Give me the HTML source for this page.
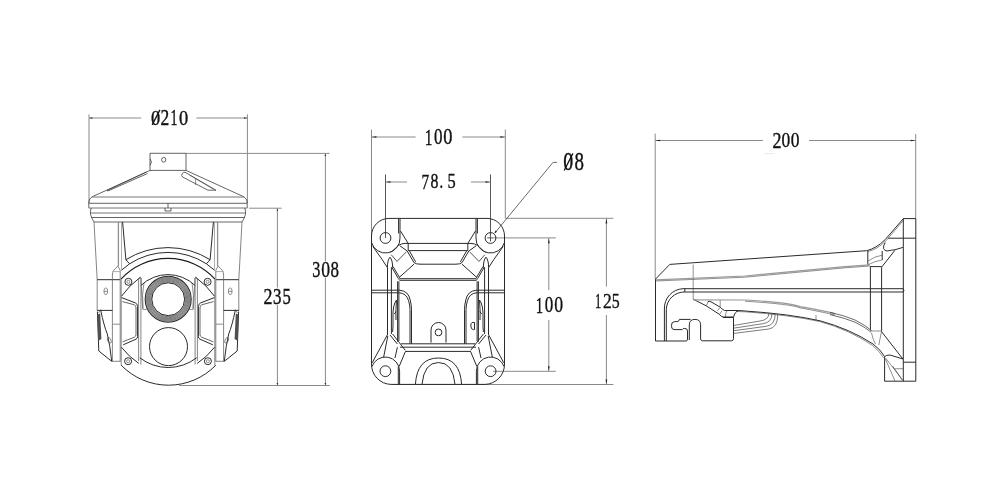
<!DOCTYPE html>
<html><head><meta charset="utf-8"><style>
html,body{margin:0;padding:0;background:#fff;width:1000px;height:500px;overflow:hidden}
svg{display:block;will-change:transform}
.d{stroke:#8a8a8a;stroke-width:1;fill:none}
.k{stroke:#2a2a2a;stroke-width:1;fill:none}
.kt{stroke:#444;stroke-width:0.6;fill:none}
.km{stroke:#666;stroke-width:0.8;fill:none}
.kc{stroke:#3c3c3c;stroke-width:0.8;fill:none}
.kg{stroke:#777;stroke-width:1;fill:none}
.kl{stroke:#999;stroke-width:0.8;fill:none}
.ah{fill:#222;stroke:none}
.t{font-family:"Liberation Serif",serif;fill:#111;stroke:#111;stroke-width:0.4}
.wb{fill:#fff;stroke:none}
</style></head><body>
<svg width="1000" height="500" viewBox="0 0 1000 500">
<g class="d">
<path d="M89,114.4 V203 M247.4,114.4 V203"/>
<path d="M89,118 H141.2 M196.4,118 H247.4"/>
<path d="M186,153.4 H329.6 M179,385.5 H329.8"/>
<path d="M325.4,153.6 V261.2 M325.4,277.8 V385.3"/>
<path d="M249.2,208.2 H281.6"/>
<path d="M277.4,208.4 V287.6 M277.4,305 V385.3"/>
</g>
<path class="ah" d="M89.20,118.00 L92.40,117.15 L92.40,118.85Z"/>
<path class="ah" d="M247.20,118.00 L244.00,117.15 L244.00,118.85Z"/>
<path class="ah" d="M325.40,153.80 L324.60,156.00 L326.20,156.00Z"/>
<path class="ah" d="M325.40,385.30 L324.60,383.10 L326.20,383.10Z"/>
<path class="ah" d="M277.40,208.60 L276.60,210.80 L278.20,210.80Z"/>
<path class="ah" d="M277.40,385.30 L276.60,383.10 L278.20,383.10Z"/>
<text class="t" transform="translate(151.00 124.69) scale(0.839 1)" font-size="21.93">0</text>
<text class="t" transform="translate(160.53 124.90) scale(0.781 1)" font-size="22.35">2</text>
<text class="t" transform="translate(170.58 124.90) scale(0.621 1)" font-size="22.42">1</text>
<text class="t" transform="translate(179.00 124.69) scale(0.839 1)" font-size="21.93">0</text>
<path d="M152.2,124.9 L159.9,109.9" stroke="#111" stroke-width="1.25" fill="none"/>
<text class="t" transform="translate(312.19 276.54) scale(0.712 1)" font-size="22.71">3</text>
<text class="t" transform="translate(321.23 276.54) scale(0.778 1)" font-size="22.61">0</text>
<text class="t" transform="translate(330.61 276.54) scale(0.751 1)" font-size="22.61">8</text>
<text class="t" transform="translate(263.41 304.10) scale(0.788 1)" font-size="22.81">2</text>
<text class="t" transform="translate(272.89 303.88) scale(0.754 1)" font-size="22.47">3</text>
<text class="t" transform="translate(282.53 303.88) scale(0.732 1)" font-size="22.72">5</text>
<g class="k">
<path class="kc" d="M168,153.3 H150 V170.4 H168"/>
<path class="kc" d="M150,170.4 L93,196.4 Q88.8,198.2 88.8,203.2 V208"/>
<path class="kg" d="M92,197 H168 M88.8,208 H168 M90.4,213 H168"/>
<path class="kc" d="M88.8,203.3 H168 M91.6,217.5 H168"/>
<path class="kc" d="M91.2,208 Q88.6,214 94,222 H168"/>
<path class="km" d="M94,222 L97.2,280 V310.8"/>
<path d="M97.2,279.7 H120.2"/>
<path stroke="#8c8c8c" stroke-width="1.3" fill="none" d="M118.4,222 V266"/>
<path class="kl" d="M121.5,222 V269.5"/>
<path d="M122.6,222 L125.9,259.7 L129.6,263.8 L121.3,270.3"/>
<path class="km" d="M117.9,266.1 Q115,268.5 113.6,270.5 Q112.4,272 112.4,275 V361.3 M117.9,266.1 L120.2,270.3 V361.5 M111.7,361.3 H120.2"/>
<path d="M97.2,310.4 H112.4 M97.4,311.5 L98.8,351 L111.7,361.3 M100.6,309.8 Q104,326 107.3,334 Q110,345 111.7,361.3"/>
<path class="km" d="M121.2,278.9 V365.3"/>
</g>
<g class="kt">
<path d="M113,324.2 H120"/>
<path class="kl" d="M112.6,271.6 H120"/>
<ellipse cx="105.8" cy="291.3" rx="1.9" ry="3.4"/>
<path d="M104,291.3 H107.6"/>
<ellipse cx="109.3" cy="340.3" rx="1.6" ry="3.0" transform="rotate(-25 109.3 340.3)"/>
<path d="M100.6,309.8 L98.5,313" />
</g>
<path d="M97.4,314.5 L100.2,313.6 L101.4,339 L98.2,341 Z" fill="#505050" stroke="none"/>
<g class="k">
<circle cx="128.4" cy="281.8" r="3.5"/>
<circle cx="128.4" cy="281.8" r="1.5" class="kt"/>
<circle cx="128.1" cy="361.2" r="3.5"/>
<circle cx="128.1" cy="361.2" r="1.5" class="kt"/>
<path d="M121.6,297.6 L135.2,302.8 Q137.6,304 137.6,306.5 V336.3 Q137.8,338.4 136,339.2 L123.2,344.8"/>
<path stroke="#555" stroke-width="0.9" d="M122.4,301.6 L134.4,304.8 Q136,305.8 136,308 V334.5 Q136,336.4 134.4,337.2 L122.6,341.8"/>
<path class="km" d="M138.6,279 V361 M140.9,278 V364.5 M138.6,279 L140.4,277.2 L141,278"/>
<path d="M121.5,296.2 Q129.2,285.4 140.4,277.2 M121.4,347.2 Q129,357 138.8,363.4"/>
</g>
<g transform="translate(336,0) scale(-1,1)">
<g class="k">
<path class="kc" d="M168,153.3 H150 V170.4 H168"/>
<path class="kc" d="M150,170.4 L93,196.4 Q88.8,198.2 88.8,203.2 V208"/>
<path class="kg" d="M92,197 H168 M88.8,208 H168 M90.4,213 H168"/>
<path class="kc" d="M88.8,203.3 H168 M91.6,217.5 H168"/>
<path class="kc" d="M91.2,208 Q88.6,214 94,222 H168"/>
<path class="km" d="M94,222 L97.2,280 V310.8"/>
<path d="M97.2,279.7 H120.2"/>
<path stroke="#8c8c8c" stroke-width="1.3" fill="none" d="M118.4,222 V266"/>
<path class="kl" d="M121.5,222 V269.5"/>
<path d="M122.6,222 L125.9,259.7 L129.6,263.8 L121.3,270.3"/>
<path class="km" d="M117.9,266.1 Q115,268.5 113.6,270.5 Q112.4,272 112.4,275 V361.3 M117.9,266.1 L120.2,270.3 V361.5 M111.7,361.3 H120.2"/>
<path d="M97.2,310.4 H112.4 M97.4,311.5 L98.8,351 L111.7,361.3 M100.6,309.8 Q104,326 107.3,334 Q110,345 111.7,361.3"/>
<path class="km" d="M121.2,278.9 V365.3"/>
</g>
<g class="kt">
<path d="M113,324.2 H120"/>
<path class="kl" d="M112.6,271.6 H120"/>
<ellipse cx="105.8" cy="291.3" rx="1.9" ry="3.4"/>
<path d="M104,291.3 H107.6"/>
<ellipse cx="109.3" cy="340.3" rx="1.6" ry="3.0" transform="rotate(-25 109.3 340.3)"/>
<path d="M100.6,309.8 L98.5,313" />
</g>
<path d="M97.4,314.5 L100.2,313.6 L101.4,339 L98.2,341 Z" fill="#505050" stroke="none"/>
<g class="k">
<circle cx="128.4" cy="281.8" r="3.5"/>
<circle cx="128.4" cy="281.8" r="1.5" class="kt"/>
<circle cx="128.1" cy="361.2" r="3.5"/>
<circle cx="128.1" cy="361.2" r="1.5" class="kt"/>
<path d="M121.6,297.6 L135.2,302.8 Q137.6,304 137.6,306.5 V336.3 Q137.8,338.4 136,339.2 L123.2,344.8"/>
<path stroke="#555" stroke-width="0.9" d="M122.4,301.6 L134.4,304.8 Q136,305.8 136,308 V334.5 Q136,336.4 134.4,337.2 L122.6,341.8"/>
<path class="km" d="M138.6,279 V361 M140.9,278 V364.5 M138.6,279 L140.4,277.2 L141,278"/>
<path d="M121.5,296.2 Q129.2,285.4 140.4,277.2 M121.4,347.2 Q129,357 138.8,363.4"/>
</g>
</g>
<g class="k">
<ellipse class="kc" cx="163.7" cy="159.8" rx="2.1" ry="2.4" stroke-width="1"/>
<path class="kc" d="M150,158.8 Q153,162 150,165.4"/>
<path class="kc" d="M146.5,172 L107,190.5 M147.5,173.5 L109,190.5 Q107.5,191 107,190.5"/>
<path class="kc" d="M185,172.2 L216,190.2 H208 L182.6,177 Q181,175.6 182.2,173.6 Q183.4,172 185,172.2"/>
<path class="kt" d="M189.5,175 L213.5,189.2 M195.6,179 V185"/>
<path class="kc" d="M168,203.3 V208 M165,208 V211 H171 V208"/>
<path d="M125.90,259.70 A79.29,79.29 0 0 1 210.10,259.70"/>
<path d="M129.60,263.80 A70.37,70.37 0 0 1 206.40,263.80"/>
<path stroke-width="1.3" stroke="#1e1e1e" d="M121.20,278.90 A63.67,63.67 0 0 1 214.80,278.90"/>
</g>
<circle cx="168.2" cy="299.2" r="19.7" fill="none" stroke="#bdbdbd" stroke-width="6.4"/>
<g fill="none" stroke="#3a3a3a" stroke-width="0.5">
<circle cx="168.2" cy="299.2" r="17.50"/>
<circle cx="168.2" cy="299.2" r="18.55"/>
<circle cx="168.2" cy="299.2" r="19.60"/>
<circle cx="168.2" cy="299.2" r="20.65"/>
<circle cx="168.2" cy="299.2" r="21.70"/>
</g>
<g class="k">
<circle cx="168.2" cy="299.2" r="23" stroke-width="1.1"/>
<circle cx="168.2" cy="299.2" r="16.4"/>
</g>
<g class="k">
<path d="M140.90,285.50 A39.14,39.14 0 0 1 195.10,285.50"/>
<path class="kt" d="M141,278 Q141.3,282 141.4,286.4 Q142,298 142.7,309.4 H146.9 M195,278 Q194.7,282 194.6,286.4 Q194,298 193.3,309.4 H189.1"/>
<path class="kt" d="M144,282.7 Q141.5,295 143.2,308.5 M192,282.7 Q194.5,295 192.8,308.5"/>
<circle cx="168.5" cy="346.6" r="19"/>
<path d="M121.20,365.20 A65.93,65.93 0 0 0 215.80,365.20"/>
<path d="M139.80,357.80 A46.42,46.42 0 0 0 196.60,357.80"/>
</g>
<g class="d">
<path d="M371.5,129.6 V236 M505.3,129.6 V218.4"/>
<path d="M371.2,137 H415.6 M462.4,137 H505.3"/>
<path stroke="#555" d="M385.5,174.4 V238 M490.5,174.4 V241.5 M487.2,237.9 H493"/>
<path d="M385.5,182 H407 M471,182 H490.5"/>
<path d="M505.5,218.3 H613.4 M493,237.9 H555.8 M493,371.3 H555.8 M393,384.5 H613.4"/>
<path d="M548.8,238.2 V290 M548.8,320 V371.1"/>
<path d="M606.4,218.5 V286.5 M606.4,315 V384.3"/>
</g>
<path class="ah" d="M371.60,137.00 L376.40,136.15 L376.40,137.85Z"/>
<path class="ah" d="M505.10,137.00 L500.30,136.15 L500.30,137.85Z"/>
<path class="ah" d="M385.70,182.00 L390.50,181.15 L390.50,182.85Z"/>
<path class="ah" d="M490.30,182.00 L485.50,181.15 L485.50,182.85Z"/>
<path class="ah" d="M548.80,238.40 L547.95,243.20 L549.65,243.20Z"/>
<path class="ah" d="M548.80,371.00 L547.95,366.20 L549.65,366.20Z"/>
<path class="ah" d="M606.40,218.60 L605.55,223.40 L607.25,223.40Z"/>
<path class="ah" d="M606.40,384.20 L605.55,379.40 L607.25,379.40Z"/>
<path d="M557,162.4 H553 L494.8,233" stroke="#444" stroke-width="0.8" fill="none"/>
<path class="ah" d="M494.6,233.3 L495.4,230.4 L497,231.7 Z"/>
<text class="t" transform="translate(424.75 144.50) scale(0.641 1)" font-size="23.93">1</text>
<text class="t" transform="translate(434.05 144.27) scale(0.726 1)" font-size="23.41">0</text>
<text class="t" transform="translate(443.30 144.27) scale(0.786 1)" font-size="23.41">0</text>
<text class="t" transform="translate(421.39 188.50) scale(0.710 1)" font-size="21.53">7</text>
<text class="t" transform="translate(430.40 188.30) scale(0.757 1)" font-size="20.89">8</text>
<text class="t" transform="translate(439.45 188.30) scale(0.689 1)" font-size="20.89">.</text>
<text class="t" transform="translate(447.55 188.29) scale(0.772 1)" font-size="21.22">5</text>
<text class="t" transform="translate(563.35 170.16) scale(0.796 1)" font-size="24.90">0</text>
<text class="t" transform="translate(574.38 170.16) scale(0.758 1)" font-size="24.90">8</text>
<path d="M564.2,170.5 L572.9,153.4" stroke="#111" stroke-width="1.25" fill="none"/>
<text class="t" transform="translate(535.80 312.70) scale(0.621 1)" font-size="23.78">1</text>
<text class="t" transform="translate(544.85 312.47) scale(0.730 1)" font-size="23.27">0</text>
<text class="t" transform="translate(554.33 312.47) scale(0.761 1)" font-size="23.27">0</text>
<text class="t" transform="translate(595.10 307.80) scale(0.569 1)" font-size="21.96">1</text>
<text class="t" transform="translate(602.93 307.80) scale(0.797 1)" font-size="21.90">2</text>
<text class="t" transform="translate(611.78 307.59) scale(0.728 1)" font-size="21.82">5</text>
<g class="k">
<path d="M438,218.4 H389 A17.5,17.5 0 0 0 371.5,236 V364 A20,20 0 0 0 391,384.4 H438"/>
<circle cx="385.5" cy="238" r="5.4"/>
<path d="M371.6,242.6 A14.5,14.5 0 0 0 400,238 V218.4 M398.6,218.4 V233.5"/>
<path d="M400.5,231 L408.2,243.4 M399.2,245.2 Q401.5,243.4 405,243.4 H438 M408.2,243.4 V250.6 M408.2,250.6 H438"/>
<path d="M400,245.9 L407.2,251 L414,262.6 Q416,264.2 420,264.2 H438 M409.2,250.6 L415.6,261.8"/>
<path d="M414,264.2 L398.8,277.8"/>
<path d="M399.6,278.7 H438 M399.6,280.3 H438 M399.6,278.7 Q398.4,279.4 399.6,280.3"/>
<path stroke-width="0.8" d="M391.2,254.7 L397,261.4 L406.4,251.8 M390.4,252.6 L399.5,244.5"/>
<path d="M387.4,267.6 Q387.4,260 390,257.2 Q392.6,260 392.6,267.4 M391.7,267 L398.4,278.7 M393,266.5 L399.6,277.6"/>
<path d="M372.8,246.4 L382,259.3 L387.4,267.6"/>
<path d="M371.5,290.2 H399.6 Q408.5,291 410.2,300 Q411.5,305 411.5,309.6 V343.8 M371.5,292.8 H399.6 Q406.5,293.5 408.5,300.5 Q410,305 410,309.6 V343.8"/>
<path d="M387.5,267.6 V334 M391.4,267.4 V334 M397.6,281.3 V341.7 M398.9,281.3 V341"/>
<path d="M396.5,300 Q392.5,305 393,318 Q393.2,327 392.6,332 M396.5,300 Q395.5,312 396,320 M394.3,314 L396.2,311.5"/>
<path d="M387.8,334 L372.2,362.8 M392.6,334 L405.2,350.2 M390,335 L397.4,344 M387.8,336 L383.6,357.4 M397.4,347.2 L395,358 M405.2,352 L399.2,366.4"/>
<circle cx="385.4" cy="371.2" r="5.4"/>
<path d="M372,366.5 A14.2,14.2 0 0 1 399.6,371.2 V384.4 M398.3,366.4 V384.4"/>
<path d="M401,343.8 H438 M400,347.2 H438 M405,351.4 H438"/>
</g>
<g transform="translate(876,0) scale(-1,1)">
<g class="k">
<path d="M438,218.4 H389 A17.5,17.5 0 0 0 371.5,236 V364 A20,20 0 0 0 391,384.4 H438"/>
<circle cx="385.5" cy="238" r="5.4"/>
<path d="M371.6,242.6 A14.5,14.5 0 0 0 400,238 V218.4 M398.6,218.4 V233.5"/>
<path d="M400.5,231 L408.2,243.4 M399.2,245.2 Q401.5,243.4 405,243.4 H438 M408.2,243.4 V250.6 M408.2,250.6 H438"/>
<path d="M400,245.9 L407.2,251 L414,262.6 Q416,264.2 420,264.2 H438 M409.2,250.6 L415.6,261.8"/>
<path d="M414,264.2 L398.8,277.8"/>
<path d="M399.6,278.7 H438 M399.6,280.3 H438 M399.6,278.7 Q398.4,279.4 399.6,280.3"/>
<path stroke-width="0.8" d="M391.2,254.7 L397,261.4 L406.4,251.8 M390.4,252.6 L399.5,244.5"/>
<path d="M387.4,267.6 Q387.4,260 390,257.2 Q392.6,260 392.6,267.4 M391.7,267 L398.4,278.7 M393,266.5 L399.6,277.6"/>
<path d="M372.8,246.4 L382,259.3 L387.4,267.6"/>
<path d="M371.5,290.2 H399.6 Q408.5,291 410.2,300 Q411.5,305 411.5,309.6 V343.8 M371.5,292.8 H399.6 Q406.5,293.5 408.5,300.5 Q410,305 410,309.6 V343.8"/>
<path d="M387.5,267.6 V334 M391.4,267.4 V334 M397.6,281.3 V341.7 M398.9,281.3 V341"/>
<path d="M396.5,300 Q392.5,305 393,318 Q393.2,327 392.6,332 M396.5,300 Q395.5,312 396,320 M394.3,314 L396.2,311.5"/>
<path d="M387.8,334 L372.2,362.8 M392.6,334 L405.2,350.2 M390,335 L397.4,344 M387.8,336 L383.6,357.4 M397.4,347.2 L395,358 M405.2,352 L399.2,366.4"/>
<circle cx="385.4" cy="371.2" r="5.4"/>
<path d="M372,366.5 A14.2,14.2 0 0 1 399.6,371.2 V384.4 M398.3,366.4 V384.4"/>
<path d="M401,343.8 H438 M400,347.2 H438 M405,351.4 H438"/>
</g>
</g>
<g class="k">
<path d="M431,342.6 V330 A7.5,7.5 0 0 1 446,330 V342.6"/>
<circle cx="438.5" cy="332.4" r="3.4"/>
<path d="M415.4,384.4 Q417,358 438.5,358 Q460,358 461.6,384.4"/>
<path d="M422,384.4 Q424,362.5 438.5,362.5 Q453,362.5 455,384.4"/>
<path d="M474.5,322.5 H472 Q470.8,323 470.8,326 Q471,329.6 473.5,329.6 H474.5 V322.5"/>
</g>
<g class="d">
<path d="M655.2,133.6 V279 M915.7,134 V218.6"/>
<path d="M655.2,140.5 H763 M809,140.5 H915.7"/>
</g>
<path class="ah" d="M655.40,140.50 L660.20,139.65 L660.20,141.35Z"/>
<path class="ah" d="M915.50,140.50 L910.70,139.65 L910.70,141.35Z"/>
<text class="t" transform="translate(772.51 147.70) scale(0.815 1)" font-size="22.05">2</text>
<text class="t" transform="translate(781.54 147.49) scale(0.807 1)" font-size="21.64">0</text>
<text class="t" transform="translate(790.64 147.49) scale(0.807 1)" font-size="21.64">0</text>
<path d="M764,153.6 H774" stroke="#e4e4e4" stroke-width="0.8"/>
<g class="k">
<path d="M655.6,279 L669.8,264.4 L866.5,250.7 Q876,248.6 885.2,239.6 L903.4,218.6"/>
<path d="M868,251.6 Q877,249.6 886.2,240.6 L903.4,220.4" class="kt"/>
<path d="M655.5,279 V341 H686.2"/>
<path d="M903.3,218.6 H915.8 V381.2 H884.6 V356.6 M903.3,218.6 V381.2 M888.2,238.2 H915.8 M903.3,362.2 H915.8"/>
<path d="M693.2,264.6 V299.4" class="kt"/>
<path d="M683,288.7 H903 Q905,290.3 903,292 H684.8 M683,288.7 A19.5,19.5 0 0 0 664.4,309 V341 M684.8,292 A18,18 0 0 0 666.3,309.5 V341 M684.8,288.7 V292"/>
<path d="M686.2,341 Q687.5,340.8 687.5,339 V331 Q687.5,328.4 684.8,328.4 Q682.6,328.4 682.2,329.6 H674 Q671.4,329.6 671.4,325.6 Q671.4,321.6 674.6,321.6 H677.2 Q679,321.6 679.4,319.4 H690.6"/>
<path d="M689.3,340 V324.8 Q689.3,319.4 695,319.4 Q700.6,319.4 700.6,324.8 V339 Q700.8,340.8 702.6,340.8 H731.4 Q733.5,340.8 733.5,338.6 V317.5 H722.9"/>
<path d="M693.4,299.3 L706.2,305.8 L719.1,314.2 Q721.5,317 723.6,317 H733.1"/>
<path d="M707.6,302 Q709,300.6 711,301.8 L720.2,307.2 Q722,309.2 724.5,310.5 H738.7"/>
<path d="M733.5,317.5 Q734.5,311.8 738.4,311"/>
<path class="kt" d="M706.2,305.8 L708,302.2 M717.4,310.9 L719.6,308 M719.6,314.4 L722,310.8 M725.3,317 Q725.4,313 727,310.6 M720.2,299.8 V307.2"/>
<path d="M738.7,310.5 L745,311 Q790,314 820,320.8 Q850,329 873,344 Q881,350 884.6,356.6"/>
<path class="kt" d="M736,311.5 L745,311.8 Q790,315 820,321.6 Q850,330 872.5,345.5 Q880,351.5 883.6,358"/>
<path d="M816,315 V321" class="kt"/>
<g fill="none" stroke="#444" stroke-width="0.7">
<path d="M734,325.4 L760.0,321.0 Q769.0,319.8 769.0,313.0"/>
<path d="M734,328.1 L763.0,323.7 Q772.0,322.5 772.0,313.4"/>
<path d="M734,330.7 L766.2,326.3 Q775.2,325.1 775.2,313.7"/>
<path d="M734,333.4 L768.8,329.0 Q777.8,327.8 777.8,314.1"/>
</g>
<path d="M867.8,250.8 V264.8 M870.4,266.6 V330.4 M881.6,267.2 V331.6 M882.2,251 V260 M870.2,266.6 H881.6"/>
<path class="kt" d="M867.8,261.2 Q875,256 882.2,255.2 M867.8,264.8 Q875,261 882.2,260"/>
<path d="M885.2,242.6 Q883,246 883.6,248.6 Q884.6,251 887,251 Q892,250 894.8,249.8 L902.9,247.4 M894.8,250.4 L881.6,267.2"/>
<path class="kt" d="M871,331 H881.6 M871.5,333 Q873,340 875.5,344 M881.4,332 L878.8,345"/>
<path d="M881.6,331.7 L902.9,359 M884.6,356.6 Q886,355 889.9,355 L903,359"/>
<path class="kt" d="M885.3,358.8 L895,381 M885.6,358 L903,380.6 M895,368.7 H903.2"/>
<path d="M892.5,366 L902.6,380.4" stroke="#666" stroke-width="1" fill="none"/>
</g>
<g fill="none" stroke="#9a9a9a" stroke-width="1.2">
<path d="M655.8,279.8 L745,276 L845,266.6 L870,264.8"/>
<path d="M693.2,299.9 L745,300 Q790,302.5 800,306.6 Q825,311 835,313.5"/>
</g>
<g class="kt">
<path d="M655.8,281 L745,277.2 L845,267.8 L870,266"/>
<path d="M745,301.2 Q790,304 800,307.8 Q825,312.5 835,315"/>
<path stroke="#3a3a3a" stroke-width="0.75" d="M830,312.4 Q845,315.6 855,320 Q865,325 871.6,330.6 M830,314.6 Q845,318 855,322.2 Q865,327 871.2,332.2"/>
</g>
</svg>
</body></html>
